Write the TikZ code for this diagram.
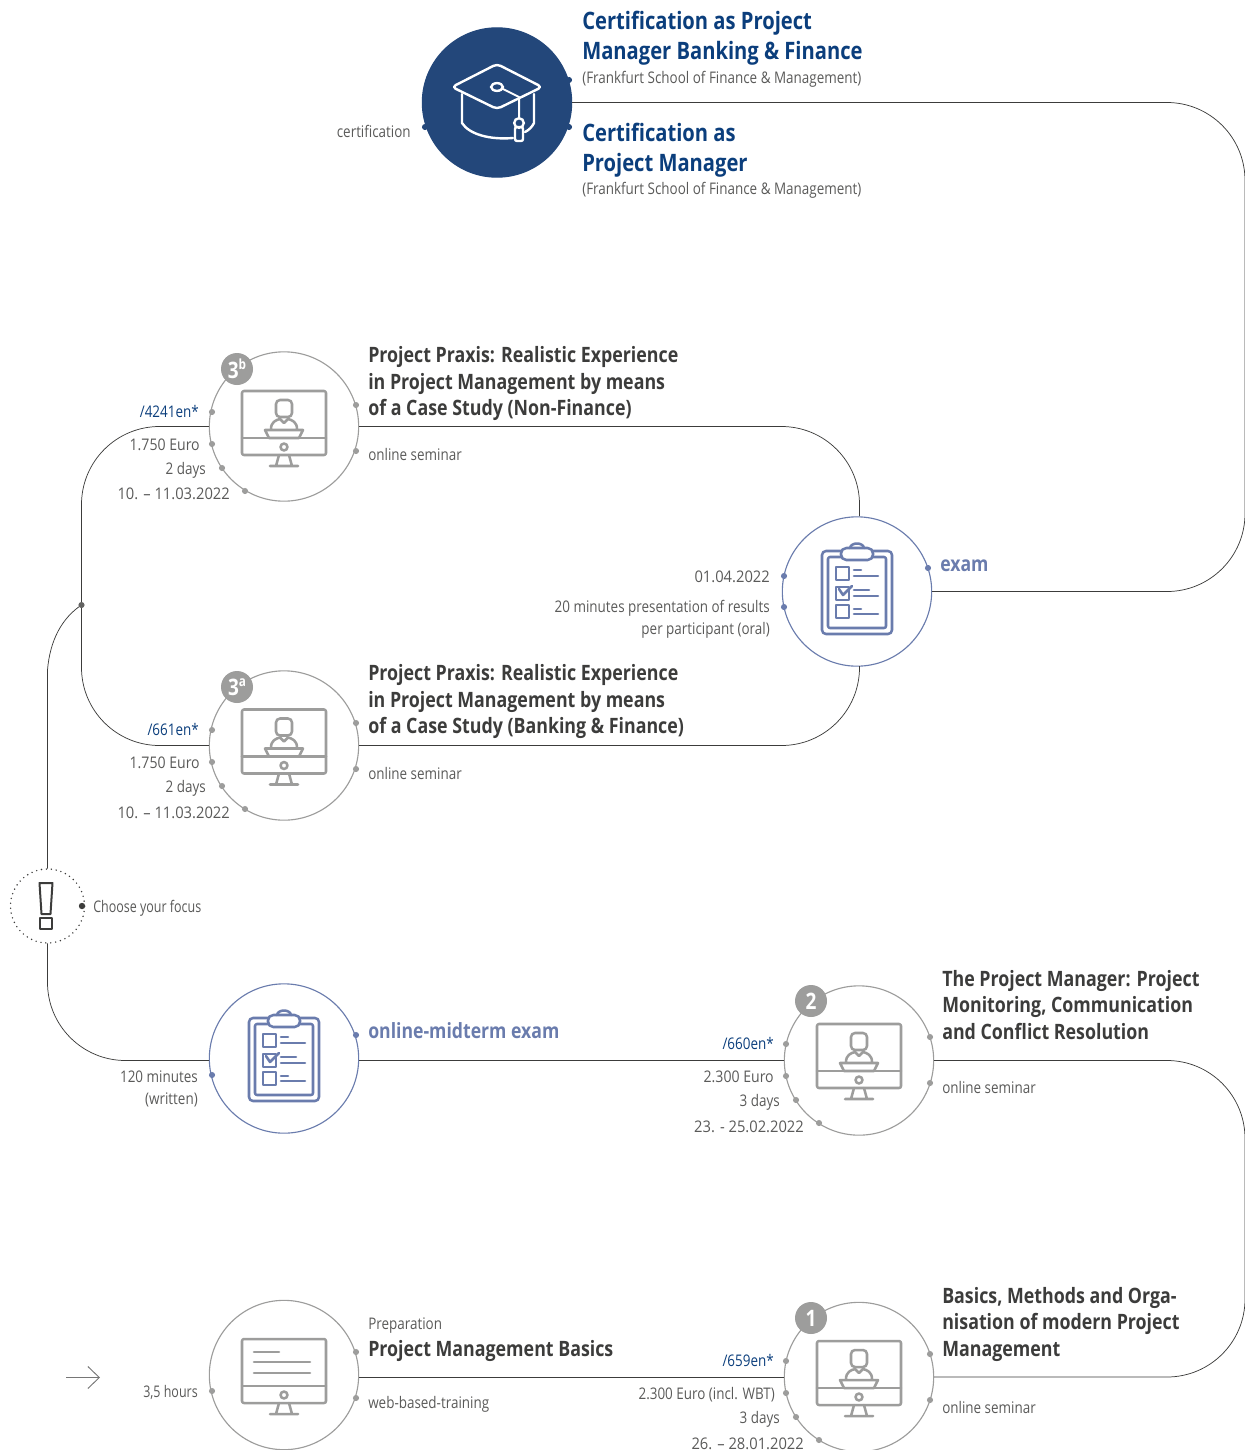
\documentclass[tikz,border=0pt]{standalone}
\usepackage{fontspec}
\setmainfont{Open Sans}[FakeStretch=0.84]
\newfontfamily\tightfont{Open Sans}[FakeStretch=0.78,Ligatures=TeX]
\newfontfamily\numfont{Open Sans}[FakeStretch=0.92,Ligatures=TeX]
\newfontfamily\pricefont{Open Sans}[FakeStretch=0.88,Ligatures=TeX]
\usetikzlibrary{arrows.meta}
\definecolor{navy}{HTML}{23477A}
\definecolor{titleblue}{HTML}{0B3E7C}
\definecolor{slate}{HTML}{6A7CAD}
\definecolor{stone}{HTML}{9D9D9C}
\definecolor{ink}{HTML}{3C3C3B}
\definecolor{txt}{HTML}{5A5A59}
\tikzset{
  x=0.75pt,y=-0.75pt,
  conn/.style={draw=ink,line width=0.55pt,rounded corners=58.5pt},
  ring/.style={circle,draw=#1,fill=white,line width=0.85pt,minimum size=112pt,inner sep=0pt},
  lbl/.style={inner sep=0pt,font=\fontsize{12}{14}\selectfont,text=txt},
  lblr/.style={lbl,anchor=base east},
  lbll/.style={lbl,anchor=base west},
  numr/.style={lbl,anchor=base east,font=\fontsize{12}{14}\selectfont\numfont},
  pricer/.style={lbl,anchor=base east,font=\fontsize{12}{14}\selectfont\pricefont},
  multir/.style={inner sep=0pt,font=\fontsize{12}{16.5}\selectfont,text=txt,align=right,anchor=north east},
  headgray/.style={inner sep=0pt,align=left,anchor=north west,font=\fontsize{15.9}{19.9}\selectfont\bfseries,text=ink},
  headblue/.style={inner sep=0pt,align=left,anchor=north west,font=\fontsize{18}{22.1}\selectfont\bfseries,text=titleblue},
  headslate/.style={lbl,anchor=base west,font=\fontsize{15.75}{18}\selectfont\bfseries,text=slate},
  code/.style={lbl,anchor=base east,text=titleblue},
  badge/.style={circle,fill=stone,minimum size=24pt,inner sep=0pt,text=white,font=\fontsize{17}{17}\selectfont\bfseries},
  dotp/.style={fill=#1,draw=none},
  icon/.style={draw=#1,line width=1.9pt,line join=round,line cap=round,fill=none},
  monitor/.pic={
    \draw[icon=stone,rounded corners=1.5pt] (-42,-36) rectangle (42,28);
    \draw[icon=stone] (-42,11) -- (42,11);
    \draw[icon=stone] (0,20) circle[radius=2.6pt];
    \draw[icon=stone] (-5,28) -- (-8,39) (5,28) -- (8,39) (-14,39) -- (14,39);
  },
  presenter/.pic={
    \draw[icon=stone,rounded corners=3pt] (-8,-27) rectangle (8,-10);
    \draw[icon=stone] (-13,2) .. controls (-13,-5) and (-8,-7) .. (-4,-8) -- (0,-4) -- (4,-8) .. controls (8,-7) and (13,-5) .. (13,2);
    \draw[icon=stone] (-19,3) -- (19,3) -- (15,11) -- (-15,11) -- cycle;
  },
  clipboard/.pic={
    \draw[icon=slate,rounded corners=3pt] (-35,-40) rectangle (35,43);
    \draw[icon=slate,rounded corners=1.5pt] (-29,-34) rectangle (29,37);
    \draw[icon=slate,fill=white,rounded corners=4pt] (-16,-43) rectangle (16,-31);
    \draw[icon=slate] (-7,-43) .. controls (-6,-49) and (6,-49) .. (7,-43);
    \foreach \yy in {-24,-4,14}{\draw[icon=slate] (-21,\yy) rectangle (-8,\yy+13);}
    \draw[icon=slate] (-3,-21) -- (4,-21) (-3,-15) -- (21,-15) (-3,-1) -- (12,-1) (-3,5) -- (21,5) (-3,18) -- (4,18) (-3,23) -- (21,23);
    \draw[icon=slate] (-18,-2) -- (-14,4) -- (-5,-5);
  }
}
\newcommand{\dotat}[3]{\fill[dotp=#1] (#2,#3) circle[radius=2.3pt];}
\begin{document}
\begin{tikzpicture}
\useasboundingbox (0,0) rectangle (1245,1450);
% nodes
\node[ring=navy,fill=navy] (cert) at (497,102.5) {};
\node[ring=stone] (sb) at (284,426.5) {};
\node[ring=stone] (sa) at (284,745.5) {};
\node[ring=slate] (exam) at (857,591.5) {};
\node[circle,minimum size=55.5pt,inner sep=0pt] (focus) at (47.5,906) {};
\node[ring=slate] (mid) at (284,1058.5) {};
\node[ring=stone] (two) at (859,1060.5) {};
\node[ring=stone] (wbt) at (284,1375) {};
\node[ring=stone] (one) at (859,1377) {};
\coordinate (junc) at (81.5,605);
\coordinate (arrowa) at (66,1377.5);
\coordinate (arrowb) at (100,1377.5);

\draw[conn] (cert.east) -- (1245,102.5) -- (1245,591.5) -- (exam.east);
\draw[conn] (sb.east) -- (859.5,426.5) -- (859.5,516);
\draw[conn] (sa.east) -- (859.5,745.5) -- (859.5,666);
\draw[conn] (sb.west) -- (81.5,426.5) -- (81.5,745.5) -- (sa.west);
\draw[draw=ink,line width=0.55pt] (focus.north) -- (47.5,670) .. controls (50,640) and (62,618) .. (junc);
\draw[conn] (focus.south) -- (47.5,1060.5) -- (mid.west |- 0,1060.5);
\draw[conn] (mid.east |- 0,1060.5) -- (two.west);
\draw[conn] (two.east) -- (1245,1060.5) -- (1245,1377) -- (one.east);
\draw[conn] (wbt.east |- 0,1377) -- (one.west);
\draw[draw=ink!70,line width=0.7pt,-{Straight Barb[length=8.6pt,width=16.5pt,line width=0.7pt]}] (arrowa) -- (arrowb);

% focus ring
\draw[ink,line width=1.2pt,line cap=round,dash pattern=on 0pt off 3.7pt] (focus.center) circle[radius=27.75pt];
\draw[ink,line width=1.5pt,line join=round] (39.5,883) -- (52.5,883) -- (50.5,914) -- (41.5,914) -- cycle;
\draw[ink,line width=1.5pt,line join=round] (40,918) rectangle (51.5,929);
\fill[ink] (82,906) circle[radius=2.4pt];
\fill[ink!80] (junc) circle[radius=2.3pt];

% graduation cap
\begin{scope}[shift={(497,102)}]
\draw[draw=white,line width=1.8pt,rounded corners=3pt,line join=round] (-45,-15) -- (0,-38) -- (45,-15) -- (0,7) -- cycle;
\draw[draw=white,line width=1.8pt,line cap=round] (-35,-8) -- (-35,21) .. controls (-28,32) and (-8,38) .. (16,36);
\draw[draw=white,line width=1.8pt,line cap=round] (37,-8) -- (37,21) .. controls (35,25) and (32,28) .. (28,30);
\draw[draw=white,line width=1.8pt] (0,-15) ellipse[x radius=4.4pt,y radius=2.9pt];
\draw[draw=white,line width=1.5pt,line join=round] (4,-14) -- (22,-5) -- (22,16);
\draw[draw=white,line width=1.8pt] (22,21) circle[radius=3.6pt];
\draw[draw=white,line width=1.8pt,rounded corners=1.5pt] (18,25) rectangle (26,39);
\end{scope}

% icons
\pic at (284,427) {monitor};
\pic at (284,427) {presenter};
\pic at (284,745.5) {monitor};
\pic at (284,745.5) {presenter};
\pic at (859,1060) {monitor};
\pic at (859,1060) {presenter};
\pic at (859,1377) {monitor};
\pic at (859,1377) {presenter};
\pic at (284,1375) {monitor};
\draw[icon=stone] (254,1352) -- (279,1352) (254,1362) -- (310,1362) (254,1373) -- (310,1373);
\pic at (857,591) {clipboard};
\pic at (284,1058) {clipboard};

% badges
\node[badge] (b3b) at (237,369) {3\raisebox{0.38em}{\fontsize{10.5}{10.5}\selectfont b}};
\node[badge] (b3a) at (237,687) {3\raisebox{0.38em}{\fontsize{10.5}{10.5}\selectfont a}};
\node[badge] (b2) at (811,1001) {2};
\node[badge] (b1) at (811,1318) {1};

% dots
\foreach \x/\y in {569/80,569/127,425/127}{\dotat{navy}{\x}{\y}}
\foreach \x/\y in {356/405,356/451,212/412,212/444,222/468,245/491,
  356/723,356/769,212/730,212/762,222/786,245/809,
  786/1044,786/1076,796/1100,819/1123,930/1037,930/1083,
  356/1352,356/1398,212/1391,
  786/1361,786/1393,796/1417,819/1440,930/1354,930/1400}{\dotat{stone}{\x}{\y}}
\foreach \x/\y in {784/576,784/607,928/568,356/1035,212/1075}{\dotat{slate}{\x}{\y}}

% certification
\node[lblr] (tcert) at (411,137) {certification};
\node[headblue] (t1) at (582,11) {Certification as Project\\Manager Banking \& Finance};
\node[lbll] (t1s) at (582,83) {(Frankfurt School of Finance \& Management)};
\node[headblue] (t2) at (582,123) {Certification as\\Project Manager};
\node[lbll] (t2s) at (582,194) {(Frankfurt School of Finance \& Management)};

% 3b
\node[headgray] (h3b) at (368,346.5) {Project Praxis: Realistic Experience\\in Project Management by means\\of a Case Study (Non-Finance)};
\node[lbll] (m3b) at (368,460) {online seminar};
\node[code] (c3b) at (199,417) {/4241en*};
\node[pricer] (p3b) at (200,450) {1.750 Euro};
\node[lblr] (d3b) at (206,474) {2 days};
\node[numr] (w3b) at (230,499) {10. -- 11.03.2022};

% 3a
\node[headgray] (h3a) at (368,664.5) {Project Praxis: Realistic Experience\\in Project Management by means\\of a Case Study (Banking \& Finance)};
\node[lbll] (m3a) at (368,779) {online seminar};
\node[code] (c3a) at (199,735) {/661en*};
\node[pricer] (p3a) at (200,768) {1.750 Euro};
\node[lblr] (d3a) at (206,792) {2 days};
\node[numr] (w3a) at (230,818) {10. -- 11.03.2022};

% exam
\node[headslate] (hex) at (940,571) {exam};
\node[numr] (dex) at (770,582) {01.04.2022};
\node[multir] (tex) at (770,600) {20 minutes presentation of results\\per participant (oral)};

% focus
\node[lbll,font=\fontsize{12}{14}\selectfont\tightfont] (tfocus) at (93,912) {Choose your focus};

% midterm
\node[headslate] (hmid) at (368,1038) {online-midterm exam};
\node[multir] (tmid) at (198,1070) {120 minutes\\(written)};

% 2
\node[headgray] (h2) at (942,970) {The Project Manager: Project\\Monitoring, Communication\\and Conflict Resolution};
\node[lbll] (m2) at (942,1093) {online seminar};
\node[code] (c2) at (774,1049) {/660en*};
\node[pricer] (p2) at (774,1082) {2.300 Euro};
\node[lblr] (d2) at (780,1106) {3 days};
\node[numr] (w2) at (804,1132) {23. - 25.02.2022};

% wbt
\node[lbll] (pre) at (368,1329) {Preparation};
\node[headgray] (hw) at (368,1340) {Project Management Basics};
\node[lbll] (mw) at (368,1408) {web-based-training};
\node[lblr,font=\fontsize{12}{14}\selectfont\tightfont] (hrs) at (198,1397) {3,5 hours};

% 1
\node[headgray] (h1) at (942,1287) {Basics, Methods and Orga-\\nisation of modern Project\\Management};
\node[lbll] (m1) at (942,1413) {online seminar};
\node[code] (c1) at (774,1366) {/659en*};
\node[lblr] (p1) at (775,1399) {2.300 Euro (incl. WBT)};
\node[lblr] (d1) at (780,1423) {3 days};
\node[numr] (w1) at (804,1449) {26. -- 28.01.2022};
\end{tikzpicture}
\end{document}
